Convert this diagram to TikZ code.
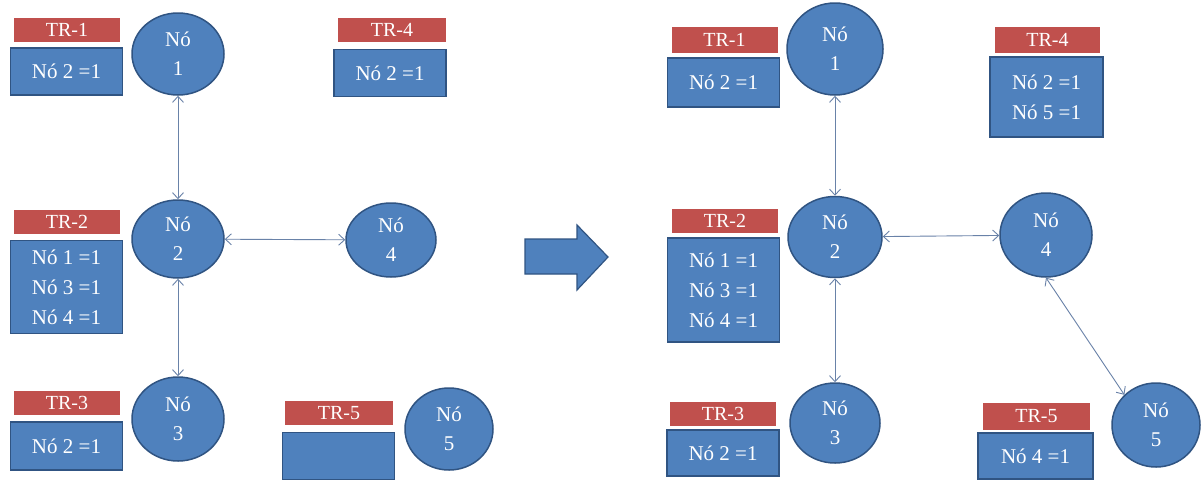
\documentclass[tikz,border=0pt]{standalone}
\usepackage{fontspec}
\setmainfont{Liberation Serif}
\usetikzlibrary{shapes.geometric, arrows.meta}
\definecolor{noblue}{RGB}{79,129,189}
\definecolor{edgeblue}{RGB}{48,84,130}
\definecolor{tabred}{RGB}{192,80,77}
\definecolor{linkgray}{RGB}{105,130,168}

\begin{document}
\begin{tikzpicture}[x=1pt, y=-1pt,
    no/.style={ellipse, draw=edgeblue, line width=1.5pt, fill=noblue, text=white,
        align=center, minimum width=92pt, minimum height=82pt, inner sep=0pt,
        font=\fontsize{21}{29}\selectfont},
    titulo/.style={rectangle, fill=tabred, text=white, minimum width=106pt,
        minimum height=24pt, inner sep=0pt, font=\fontsize{20}{24}\selectfont},
    tabela/.style={rectangle, draw=edgeblue, line width=1.5pt, fill=noblue, text=white,
        align=center, minimum width=112pt, inner sep=0pt,
        font=\fontsize{21}{30}\selectfont},
    link/.style={draw=linkgray, line width=0.9pt,
        {Straight Barb[length=6pt,width=11pt]}-{Straight Barb[length=6pt,width=11pt]}}
]
    % canvas
    \fill[white] (0,0) rectangle (1204,479);

    % ---- before ----
    \node[titulo] (lt1) at (67,30) {TR-1};
    \node[tabela, minimum height=47pt] (lb1) at (66.5,71.5) {Nó 2 =1};
    \node[no] (l1) at (178,54) {Nó\\1};

    \node[titulo] (lt2) at (67,222) {TR-2};
    \node[tabela, minimum height=93pt] (lb2) at (66.5,287) {Nó 1 =1\\Nó 3 =1\\Nó 4 =1};
    \node[no, minimum height=78pt] (l2) at (178,239) {Nó\\2};

    \node[no, minimum width=90pt, minimum height=74pt] (l4) at (391,240) {Nó\\4};

    \node[titulo] (lt3) at (67,403) {TR-3};
    \node[tabela, minimum height=48pt] (lb3) at (66.5,446) {Nó 2 =1};
    \node[no, minimum height=84pt] (l3) at (178,419) {Nó\\3};

    \node[titulo, minimum width=108pt] (lt4) at (392,30) {TR-4};
    \node[tabela, minimum height=47pt] (lb4) at (390,73) {Nó 2 =1};

    \node[titulo, minimum width=108pt] (lt5) at (339,413) {TR-5};
    \node[tabela, minimum height=47pt] (lb5) at (338.5,456) {};
    \node[no, minimum width=88pt] (l5) at (449,429) {Nó\\5};

    \draw[link] (l1) -- (l2);
    \draw[link] (l2) -- (l3);
    \draw[link] (l2) -- (l4);

    % big arrow
    \filldraw[fill=noblue, draw=edgeblue, line width=1.2pt]
        (525,239) -- (577,239) -- (577,225) -- (608,257) -- (577,290)
        -- (577,274) -- (525,274) -- cycle;

    % ---- after ----
    \node[titulo, minimum height=26pt] (rt1) at (724.5,40) {TR-1};
    \node[tabela, minimum height=49pt] (rb1) at (723.5,82.5) {Nó 2 =1};
    \node[no, minimum width=96pt, minimum height=92pt] (r1) at (835,49) {Nó\\1};

    \node[titulo] (rt2) at (725,221) {TR-2};
    \node[tabela, minimum height=104pt] (rb2) at (723.5,290) {Nó 1 =1\\Nó 3 =1\\Nó 4 =1};
    \node[no, minimum width=94pt, minimum height=81pt] (r2) at (835,237) {Nó\\2};

    \node[titulo, minimum width=105pt, minimum height=26pt] (rt4) at (1047.5,40) {TR-4};
    \node[tabela, minimum width=113pt, minimum height=80pt] (rb4) at (1046.5,97) {Nó 2 =1\\Nó 5 =1};
    \node[no, minimum height=84pt] (r4) at (1046,235) {Nó\\4};

    \node[titulo] (rt3) at (723,413.5) {TR-3};
    \node[tabela, minimum height=46pt] (rb3) at (723,453) {Nó 2 =1};
    \node[no, minimum width=90pt, minimum height=80pt] (r3) at (835,423) {Nó\\3};

    \node[titulo, minimum width=107pt, minimum height=27pt] (rt5) at (1036.5,416) {TR-5};
    \node[tabela, minimum width=115pt, minimum height=46pt] (rb5) at (1035.5,456) {Nó 4 =1};
    \node[no, minimum width=88pt, minimum height=84pt] (r5) at (1156,425) {Nó\\5};

    \draw[link] (r1) -- (r2);
    \draw[link] (r2) -- (r3);
    \draw[link] (r2) -- (r4);
    \draw[link] (r4.south) -- (r5.north west);
\end{tikzpicture}
\end{document}
